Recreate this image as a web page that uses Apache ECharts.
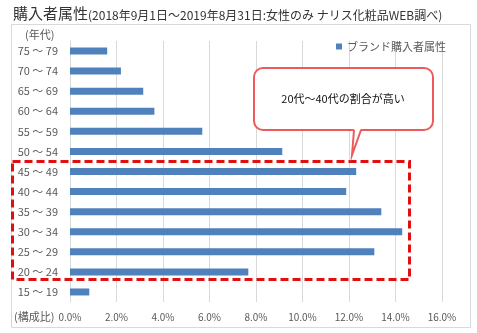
<!DOCTYPE html>
<html><head><meta charset="utf-8">
<script src="https://cdn.jsdelivr.net/npm/echarts@6/dist/echarts.min.js"></script>
<style>html,body{margin:0;padding:0;background:#fff}#c{width:477px;height:333px}</style>
</head><body><div id="c"></div>
<script>
var categories = ['15 ～ 19','20 ～ 24','25 ～ 29','30 ～ 34','35 ～ 39','40 ～ 44','45 ～ 49','50 ～ 54','55 ～ 59','60 ～ 64','65 ～ 69','70 ～ 74','75 ～ 79'];
var values = [0.83, 7.67, 13.09, 14.29, 13.39, 11.88, 12.31, 9.13, 5.69, 3.63, 3.15, 2.19, 1.60];
var seriesName = 'ブランド購入者属性';
var xMin = 0, xMax = 16, xStep = 2;
var F = '"Noto Sans CJK JP", "Noto Sans", sans-serif';
var chart = echarts.init(document.getElementById('c'), null, {renderer:'canvas'});
chart.setOption({
  animation:false,
  textStyle:{fontFamily:F},
  title:{
    left:8, top:1,
    text:'{a|購入者属性}{b|(2018年9月1日～2019年8月31日:女性のみ ナリス化粧品WEB調べ)}',
    textStyle:{fontWeight:'normal', rich:{
      a:{fontSize:15, color:'#333', fontFamily:F, fontWeight:'normal'},
      b:{fontSize:12, color:'#333', fontFamily:F, fontWeight:'normal', padding:[3,0,0,0]}
    }}
  },
  legend:{
    left:331, top:36, itemWidth:6, itemHeight:6, itemGap:2, icon:'rect',
    textStyle:{color:'#595959', fontSize:11, fontFamily:F},
    data:[seriesName]
  },
  grid:{left:70, right:35, top:41, bottom:31},
  xAxis:{
    type:'value', min:xMin, max:xMax, interval:xStep,
    axisLine:{show:false}, axisTick:{show:false},
    splitLine:{lineStyle:{color:'#d9d9d9', width:1}},
    axisLabel:{color:'#595959', fontSize:10, margin:10, fontFamily:F,
      formatter:function(v){return v.toFixed(1)+'%';}}
  },
  yAxis:{
    type:'category', data:categories,
    axisLine:{show:true, lineStyle:{color:'#d9d9d9'}}, axisTick:{show:false},
    axisLabel:{color:'#595959', fontSize:11, margin:12, fontFamily:F}
  },
  series:[{
    name:seriesName, type:'bar', data:values, barWidth:7,
    itemStyle:{color:'#4f81bd'}
  }],
  graphic:[
    {type:'rect', shape:{x:11.5,y:24.5,width:459,height:303}, style:{fill:null, stroke:'#d9d9d9', lineWidth:1}, z:-1},
    {type:'text', x:25, y:29, style:{text:'(年代)', fill:'#595959', font:'11px '+F}},
    {type:'text', x:14, y:311, style:{text:'(構成比)', fill:'#595959', font:'11px '+F}},
    {type:'rect', shape:{x:12.5,y:161.5,width:397,height:118}, style:{fill:null, stroke:'#e01010', lineWidth:3, lineDash:[8,4]}, z:10},
    {type:'rect', z:11, shape:{x:254,y:68,width:179,height:62,r:9}, style:{fill:'#fff', stroke:'#ee5a5a', lineWidth:2}},
    {type:'polygon', z:12, shape:{points:[[354,128],[361,128],[352,155]]}, style:{fill:'#fff', stroke:null}},
    {type:'polyline', z:13, shape:{points:[[354,130],[352,155],[361,130]]}, style:{fill:null, stroke:'#ee5a5a', lineWidth:2}},
    {type:'text', z:14, x:343, y:99, style:{text:'20代～40代の割合が高い', fill:'#111', font:'11px '+F, textAlign:'center', textVerticalAlign:'middle'}}
  ]
});
</script></body></html>
